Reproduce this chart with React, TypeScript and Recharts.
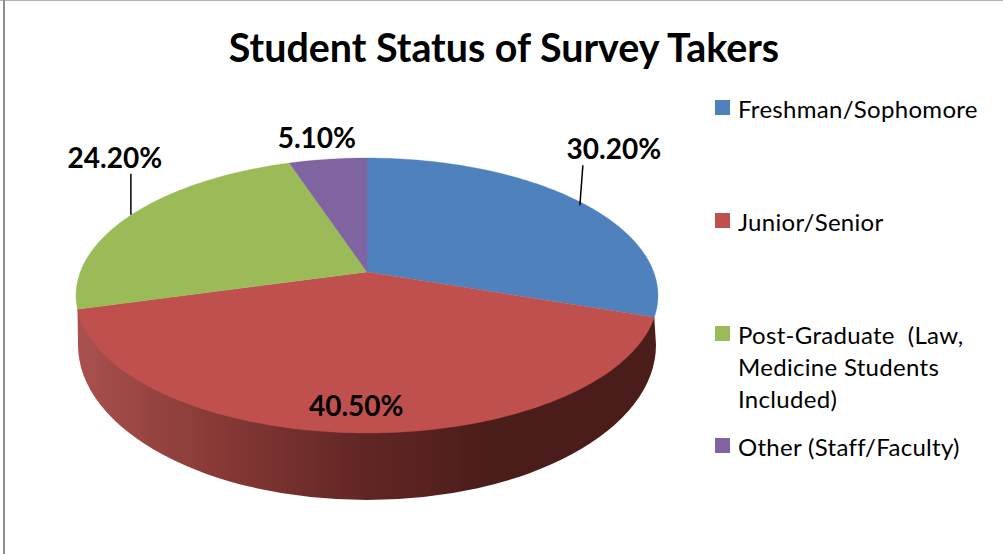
import React from "react";
import { PieChart, Pie, Legend } from "recharts";

const categories = [
  "Freshman/Sophomore",
  "Junior/Senior",
  "Post-Graduate  (Law,\nMedicine Students\nIncluded)",
  "Other (Staff/Faculty)",
];
const shares = [30.2, 40.5, 24.2, 5.1];
const colors = ["#4f81bd", "#c0504d", "#9bbb59", "#8064a2"];
const rows = categories.map((name, i) => ({ name, value: shares[i], fill: colors[i] }));

// layout
const CX = 367;
const CY = 272;
const RX = 286.7;
const TILT = 133.5 / 286.7;
const PERSPECTIVE = 0.171;
const legendTops = [100, 213, 326, 438];
const labelOffsets = [
  { dx: 35, dy: -42, line: [4, -36, 1, 4] },
  { dx: -1, dy: -17, line: null },
  { dx: -18, dy: -46, line: [-2, -40, -2, 1] },
  { dx: -11, dy: -11, line: null },
];
const FONT = "Lato, 'Open Sans', sans-serif";

// Recharts angle (counter-clockwise from +x) -> point on the tilted disc
function rim(cx: number, cy: number, r: number, deg: number) {
  const t = ((90 - deg) * Math.PI) / 180;
  const u = Math.sin(t);
  const v = -Math.cos(t);
  const w = 1 - PERSPECTIVE * v;
  return { x: cx + (r * u) / w, y: cy + (r * TILT * v) / w };
}

function arcPoints(p: any) {
  const pts: { x: number; y: number }[] = [];
  const n = Math.max(2, Math.ceil(Math.abs(p.endAngle - p.startAngle)));
  for (let i = 0; i <= n; i++) {
    pts.push(rim(p.cx, p.cy, p.outerRadius, p.startAngle + ((p.endAngle - p.startAngle) * i) / n));
  }
  return pts;
}

function FaceShape(p: any) {
  const pts = arcPoints(p);
  const d = `M${p.cx},${p.cy} ` + pts.map((q) => `L${q.x.toFixed(2)},${q.y.toFixed(2)}`).join(" ") + " Z";
  return <path d={d} fill={p.fill} stroke={p.fill} strokeWidth={0.3} />;
}

function WallShape(p: any) {
  const a = 90 - p.startAngle;
  const b = 90 - p.endAngle;
  if (!(a <= 180 && b >= 180)) return <g />;
  const pts = arcPoints(p);
  const first = pts[0];
  const last = pts[pts.length - 1];
  const wallY = p.cy + 73;
  const rx = p.outerRadius * 1.008;
  const d =
    `M${last.x.toFixed(2)},${last.y.toFixed(2)} L${(p.cx - rx).toFixed(2)},${wallY} ` +
    `A${rx.toFixed(2)},155 0 0 0 ${(p.cx + rx).toFixed(2)},${wallY} ` +
    `L${first.x.toFixed(2)},${first.y.toFixed(2)} Z`;
  return <path d={d} fill="url(#wallGradient)" />;
}

function renderLabel(p: any) {
  const { index, cx, cy, outerRadius, midAngle, value } = p;
  const m = rim(cx, cy, outerRadius, midAngle);
  const o = labelOffsets[index];
  return (
    <g key={index}>
      {o.line && (
        <line
          x1={m.x + o.line[0]}
          y1={m.y + o.line[1]}
          x2={m.x + o.line[2]}
          y2={m.y + o.line[3]}
          stroke="#000"
          strokeWidth={1.5}
        />
      )}
      <text x={m.x + o.dx} y={m.y + o.dy} textAnchor="middle" fontFamily={FONT} fontWeight={700} fontSize={28} fill="#000">
        {`${Number(value).toFixed(2)}%`}
      </text>
    </g>
  );
}

function LegendBox({ payload }: any) {
  const items = (payload || [])
    .filter((e: any, i: number, all: any[]) => all.findIndex((x) => x.value === e.value) === i)
    .sort((a: any, b: any) => categories.indexOf(a.value) - categories.indexOf(b.value));
  return (
    <div style={{ position: "relative", width: 0, height: 0 }}>
      {items.map((e: any, i: number) => (
        <div key={i}>
          <div
            style={{
              position: "absolute",
              left: 715,
              top: legendTops[i],
              width: 15,
              height: 15,
              background: colors[i],
            }}
          />
          <div
            style={{
              position: "absolute",
              left: 738,
              top: legendTops[i] - 7,
              width: 262,
              fontFamily: FONT,
              fontSize: 24,
              letterSpacing: 0.3,
              lineHeight: "32px",
              color: "#000",
              whiteSpace: "pre",
            }}
          >
            {e.value}
          </div>
        </div>
      ))}
    </div>
  );
}

export default function App() {
  return (
    <div style={{ position: "absolute", left: 0, top: 0, width: 1003, height: 554, background: "#fff", overflow: "hidden" }}>
      <div style={{ position: "absolute", left: 0, top: 0, width: 1003, height: 1, background: "#b4b4b4" }} />
      <div style={{ position: "absolute", left: 3, top: 0, width: 2, height: 554, background: "#8f8f8f" }} />
      <PieChart width={1003} height={554} margin={{ top: 0, right: 0, bottom: 0, left: 0 }}>
        <defs>
          <linearGradient id="wallGradient" gradientUnits="userSpaceOnUse" x1={80} y1={0} x2={656} y2={0}>
            <stop offset="0" stopColor="#a8504d" />
            <stop offset="0.22" stopColor="#8a3b38" />
            <stop offset="0.48" stopColor="#632725" />
            <stop offset="0.72" stopColor="#4a1c1a" />
            <stop offset="1" stopColor="#4a1c1a" />
          </linearGradient>
        </defs>
        <text x={504} y={62} textAnchor="middle" fontFamily={FONT} fontWeight={700} fontSize={39.4} fill="#000">
          Student Status of Survey Takers
        </text>
        <Pie
          data={rows}
          dataKey="value"
          nameKey="name"
          cx={CX}
          cy={CY}
          outerRadius={RX}
          startAngle={90}
          endAngle={-270}
          stroke="none"
          legendType="none"
          shape={WallShape}
          isAnimationActive={false}
          label={false}
          labelLine={false}
        />
        <Pie
          data={rows}
          dataKey="value"
          nameKey="name"
          cx={CX}
          cy={CY}
          outerRadius={RX}
          startAngle={90}
          endAngle={-270}
          stroke="none"
          shape={FaceShape}
          isAnimationActive={false}
          label={renderLabel}
          labelLine={false}
        />
        <Legend content={<LegendBox />} wrapperStyle={{ position: "absolute", left: 0, top: 0, width: 0, height: 0 }} />
      </PieChart>
    </div>
  );
}
